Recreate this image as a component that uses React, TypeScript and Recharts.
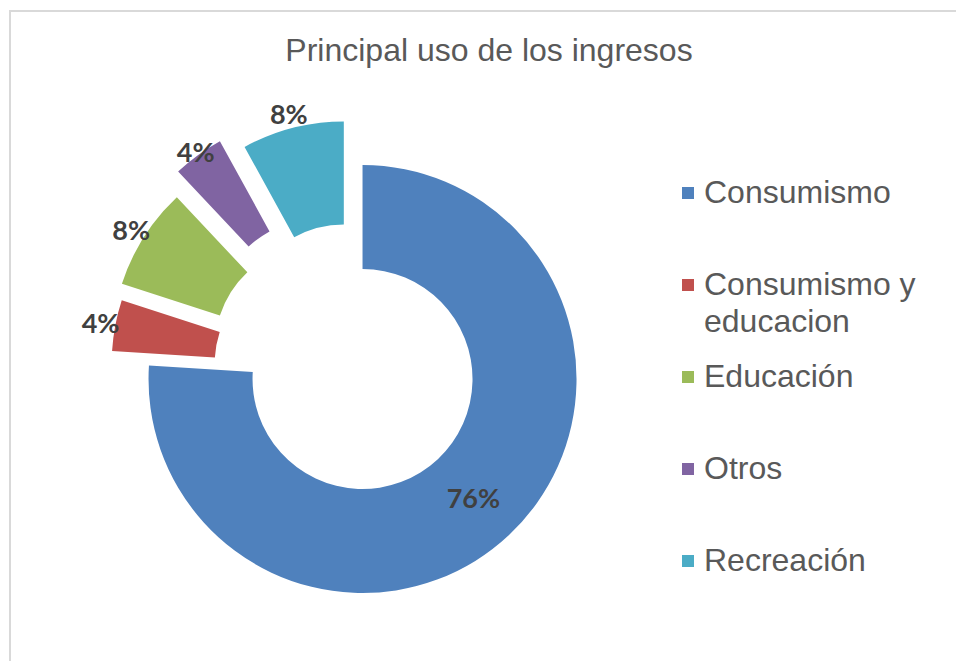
import { Legend, Pie, PieChart, Sector, Cell } from 'recharts';

const categories = ['Consumismo', 'Consumismo y educacion', 'Educación', 'Otros', 'Recreación'];
const shares = [76, 4, 8, 4, 8];
const colors = ['#4F81BD', '#C0504D', '#9BBB59', '#8064A2', '#4BACC6'];

const data = categories.map((name, i) => ({ name, value: shares[i] }));

const RADIAN = Math.PI / 180;

/** How far each slice is pulled out along its mid angle, its radii and where its label sits. */
const SLICE_STYLE: Record<string, { explode: number; inner: number; outer: number; labelR: number }> = {
  'Consumismo': { explode: 11, inner: 110, outer: 214, labelR: 162 },
  'Consumismo y educacion': { explode: 38, inner: 103, outer: 206, labelR: 221 },
  'Educación': { explode: 44, inner: 103, outer: 206, labelR: 221 },
  'Otros': { explode: 61, inner: 103, outer: 206, labelR: 210 },
  'Recreación': { explode: 45, inner: 103, outer: 206, labelR: 221 },
};
const DEFAULT_STYLE = { explode: 40, inner: 103, outer: 206, labelR: 221 };

function styleFor(props: any) {
  const name = props.name ?? props.payload?.name;
  return SLICE_STYLE[name] ?? DEFAULT_STYLE;
}

function ExplodedSector(props: any) {
  const s = styleFor(props);
  const dx = s.explode * Math.cos(-props.midAngle * RADIAN);
  const dy = s.explode * Math.sin(-props.midAngle * RADIAN);
  return (
    <Sector
      cx={props.cx + dx}
      cy={props.cy + dy}
      innerRadius={s.inner}
      outerRadius={s.outer}
      startAngle={props.startAngle}
      endAngle={props.endAngle}
      fill={props.fill}
      stroke="none"
    />
  );
}

function renderLabel(props: any) {
  const s = styleFor(props);
  const ux = Math.cos(-props.midAngle * RADIAN);
  const uy = Math.sin(-props.midAngle * RADIAN);
  const x = props.cx + ux * (s.explode + s.labelR);
  const y = props.cy + uy * (s.explode + s.labelR);
  return (
    <text
      x={x}
      y={y}
      textAnchor="middle"
      dominantBaseline="central"
      fill="#404040"
      fontFamily="Lato, 'Liberation Sans', sans-serif"
      fontWeight="bold"
      fontSize={27}
    >
      {`${Math.round(props.percent * 100)}%`}
    </text>
  );
}

function LegendList({ payload }: any) {
  return (
    <div>
      {(payload || []).map((item: any) => {
        const idx = categories.indexOf(item.value);
        return (
          <div key={item.value} style={{ display: 'flex', alignItems: 'flex-start', height: 92 }}>
            <span
              style={{
                display: 'inline-block',
                width: 12,
                height: 12,
                marginTop: 13,
                marginRight: 10,
                flexShrink: 0,
                background: idx >= 0 ? colors[idx] : item.color,
              }}
            />
            <span style={{ fontSize: 32, lineHeight: '37px', color: '#595959', width: 250 }}>
              {item.value}
            </span>
          </div>
        );
      })}
    </div>
  );
}

const pieExtra: any = { shape: ExplodedSector };

export default function App() {
  return (
    <div
      style={{
        position: 'absolute',
        left: 0,
        top: 0,
        width: 956,
        height: 661,
        overflow: 'hidden',
        background: '#fff',
        fontFamily: "'Liberation Sans', Arial, sans-serif",
      }}
    >
      <div
        style={{
          position: 'absolute',
          left: 9,
          top: 10,
          width: 1000,
          height: 700,
          border: '2px solid #d9d9d9',
        }}
      />
      <div
        style={{
          position: 'absolute',
          left: 189,
          top: 30,
          width: 600,
          height: 40,
          lineHeight: '40px',
          textAlign: 'center',
          fontSize: 32,
          color: '#595959',
        }}
      >
        Principal uso de los ingresos
      </div>
      <div style={{ position: 'absolute', left: 0, top: 0 }}>
        <PieChart width={956} height={661} margin={{ top: 0, right: 0, bottom: 0, left: 0 }}>
          <Pie
            data={data}
            dataKey="value"
            nameKey="name"
            cx={355}
            cy={371}
            innerRadius={103}
            outerRadius={206}
            startAngle={90}
            endAngle={-270}
            stroke="none"
            legendType="square"
            labelLine={false}
            label={renderLabel}
            activeShape={ExplodedSector}
            inactiveShape={ExplodedSector}
            {...pieExtra}
            isAnimationActive={false}
          >
            {data.map((d, i) => (
              <Cell key={d.name} fill={colors[i]} />
            ))}
          </Pie>
          <Legend
            layout="vertical"
            align="right"
            verticalAlign="top"
            content={<LegendList />}
            wrapperStyle={{ left: 682, top: 174, right: 'auto', bottom: 'auto', width: 270 }}
          />
        </PieChart>
      </div>
    </div>
  );
}
